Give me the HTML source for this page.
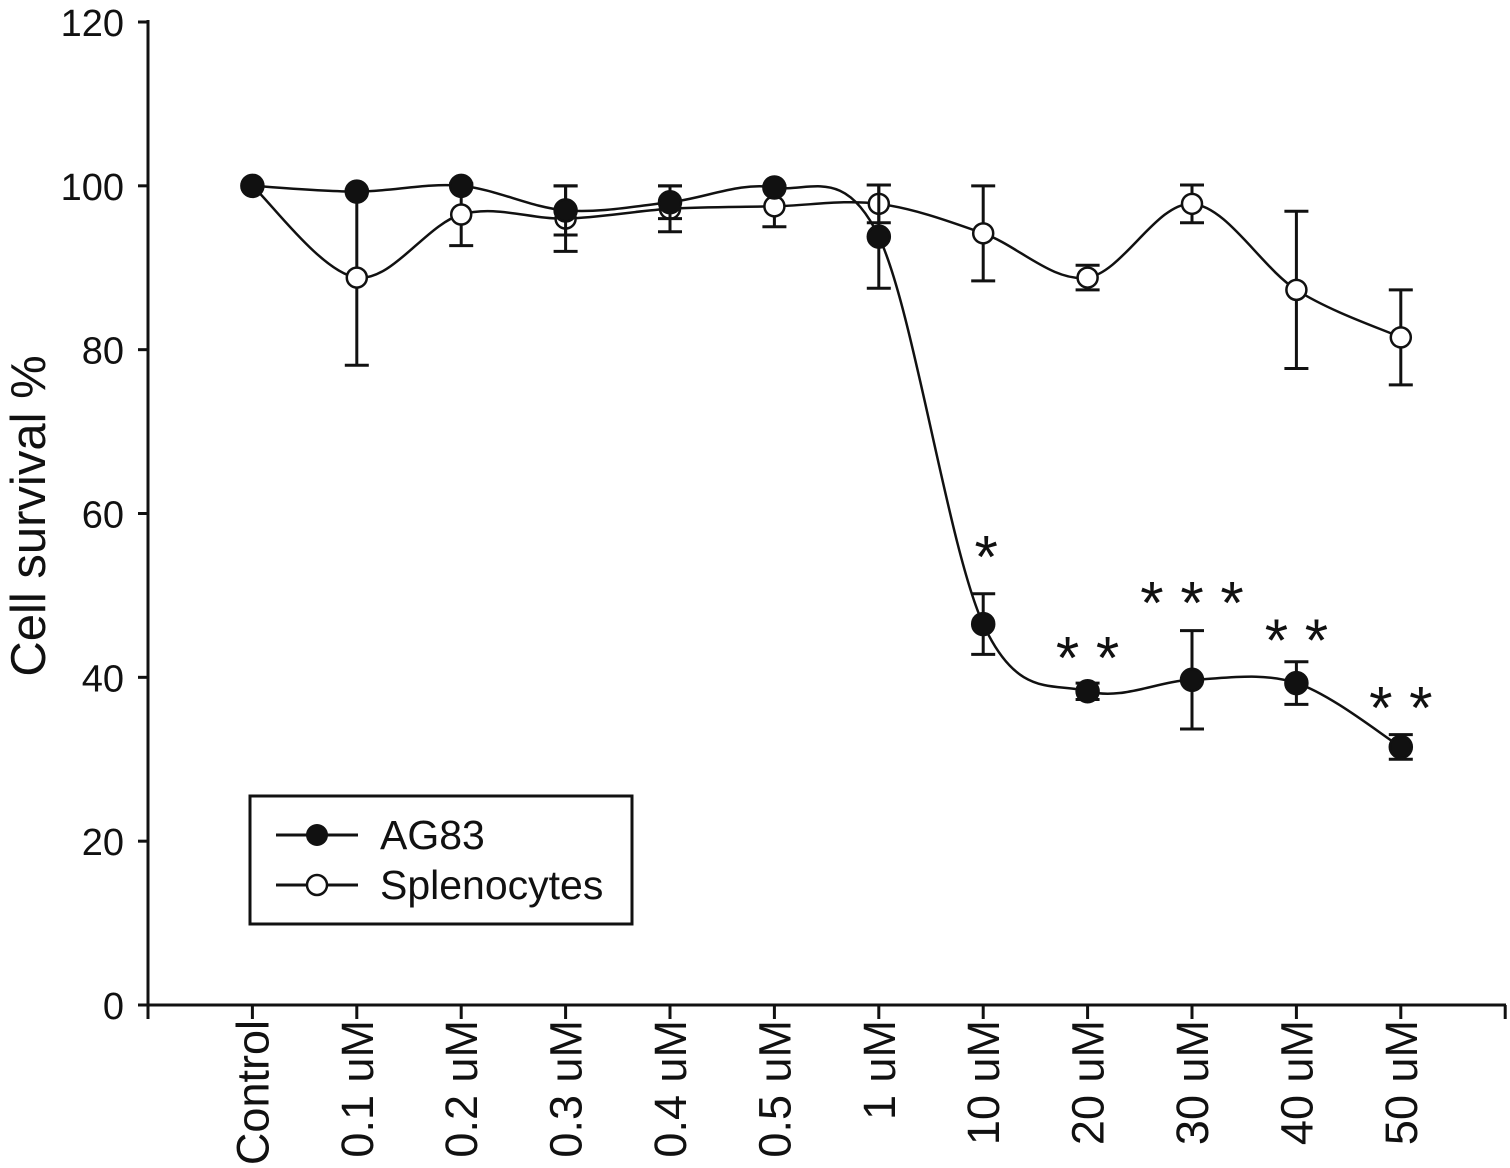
<!DOCTYPE html>
<html><head><meta charset="utf-8"><style>
html,body{margin:0;padding:0;background:#fff;}
svg{display:block;font-family:"Liberation Sans",Arial,sans-serif;}
</style></head><body>
<svg id="chart" width="1510" height="1168" viewBox="0 0 1510 1168" xmlns="http://www.w3.org/2000/svg">
<g id="axes"></g>
<g id="series"></g>
<g>
<rect x="250" y="796" width="382" height="128" fill="#fff" stroke="#111" stroke-width="3"/>
<g>
<line x1="276" y1="835" x2="358" y2="835" stroke="#111" stroke-width="3"/>
<circle cx="317" cy="835" r="11" fill="#111"/>
<text x="380" y="849" font-size="41" fill="#111">AG83</text></g>
<g>
<line x1="276" y1="885" x2="358" y2="885" stroke="#111" stroke-width="3"/>
<circle cx="317" cy="885" r="10" fill="#fff" stroke="#111" stroke-width="2.5"/>
<text x="380" y="899" font-size="41" fill="#111">Splenocytes</text></g>
</g>
<text transform="translate(45,516) rotate(-90)" text-anchor="middle" font-size="49" fill="#111">Cell survival %</text>
</svg>
<script>
const categories=["Control","0.1 uM","0.2 uM","0.3 uM","0.4 uM","0.5 uM","1 uM","10 uM","20 uM","30 uM","40 uM","50 uM"];
const ag83Values=[100,99.3,100,97,98,99.8,93.8,46.5,38.3,39.7,39.3,31.5];
const ag83Errors=[0,0,0,3,2,0,6.3,3.7,1,6,2.6,1.5];
const splenoValues=[100,88.8,96.5,96,97.2,97.5,97.8,94.2,88.8,97.8,87.3,81.5];
const splenoErrors=[0,10.7,3.8,4,2.8,2.5,2.3,5.8,1.5,2.3,9.6,5.8];
const yTicks=[0,20,40,60,80,100,120];
const sigLabels=["","","","","","","","*","* *","* * *","* *","* *"];
const sigLevels=[0,0,0,0,0,0,0,55.6,43.3,50,45.4,37.2];

const NS="http://www.w3.org/2000/svg";
const X0=148,STEP=104.4,Y0=1005,YS=983/120;
const xPos=i=>X0+(i+1)*STEP;
const yPos=v=>Y0-v*YS;
function mk(tag,attrs,parent){const e=document.createElementNS(NS,tag);for(const k in attrs)e.setAttribute(k,attrs[k]);parent.appendChild(e);return e;}
const axes=document.getElementById('axes'),series=document.getElementById('series');
let e=mk('line',{x1:X0,y1:20,x2:X0,y2:Y0,stroke:'#111','stroke-width':3},axes);


e=mk('line',{x1:X0,y1:Y0,x2:1506,y2:Y0,stroke:'#111','stroke-width':3},axes);


yTicks.forEach(t=>{
 const y=yPos(t);
 mk('line',{x1:X0-10,y1:y,x2:X0,y2:y,stroke:'#111','stroke-width':3},axes);
 const tx=mk('text',{x:124,y:y+14,'text-anchor':'end','font-size':38,fill:'#111'},axes);
 tx.textContent=t;
 
 
});
for(let i=-1;i<=categories.length;i++){
 const x=xPos(i);
 mk('line',{x1:x,y1:Y0,x2:x,y2:Y0+14,stroke:'#111','stroke-width':3},axes);
}
categories.forEach((c,i)=>{
 const x=xPos(i);
 const tx=mk('text',{transform:`translate(${x+16},1020) rotate(-90)`,'text-anchor':'end','font-size':45,fill:'#111'},axes);
 tx.textContent=c;
 
 
});
function spline(vals){
 const p=vals.map((v,i)=>[xPos(i),yPos(v)]);
 let d=`M${p[0][0]},${p[0][1]}`;
 for(let i=0;i<p.length-1;i++){
  const p0=p[Math.max(0,i-1)],p1=p[i],p2=p[i+1],p3=p[Math.min(p.length-1,i+2)];
  const c1=[p1[0]+(p2[0]-p0[0])/6,p1[1]+(p2[1]-p0[1])/6];
  const c2=[p2[0]-(p3[0]-p1[0])/6,p2[1]-(p3[1]-p1[1])/6];
  d+=` C${c1[0]},${c1[1]} ${c2[0]},${c2[1]} ${p2[0]},${p2[1]}`;
 }
 return d;
}
function drawSeries(vals,errs,filled,name){
 const g=mk('g',{},series);
 
 
 const l=mk('path',{d:spline(vals),fill:'none',stroke:'#111','stroke-width':2.5},g);
 
 
 vals.forEach((v,i)=>{
  const x=xPos(i),er=errs[i];
  if(er>0){
   const eb=mk('path',{d:`M${x},${yPos(v+er)}V${yPos(v-er)}M${x-12},${yPos(v+er)}h24M${x-12},${yPos(v-er)}h24`,stroke:'#111','stroke-width':3,fill:'none'},g);
   
   
  }
  const c=mk('circle',{cx:x,cy:yPos(v),r:filled?11:10,fill:filled?'#111':'#fff',stroke:'#111','stroke-width':2.5},g);
  
  
 });
}
drawSeries(splenoValues,splenoErrors,false,'splenocytes');
drawSeries(ag83Values,ag83Errors,true,'ag83');
sigLabels.forEach((s,i)=>{
 if(!s)return;
 const t=mk('text',{x:xPos(i)+(i===7?3:0),y:yPos(sigLevels[i])+28,'text-anchor':'middle','font-size':60,fill:'#111'},series);
 t.textContent=s;
 
 
});
</script>
</body></html>
